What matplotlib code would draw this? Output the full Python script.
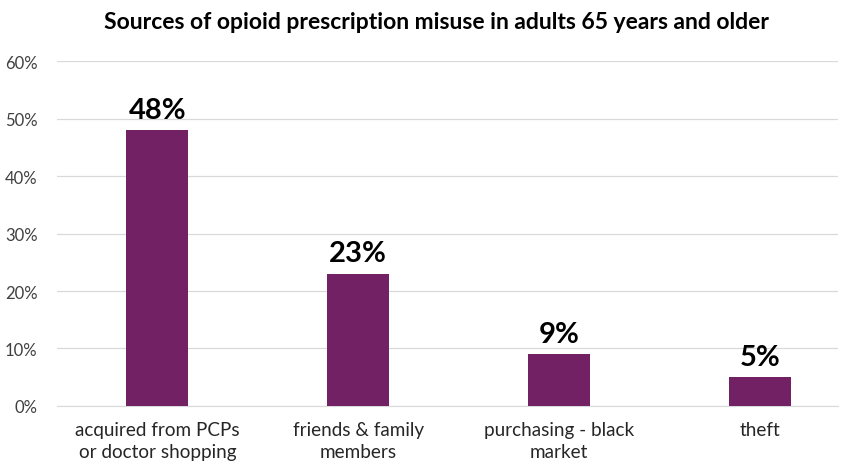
import numpy as np
import matplotlib
matplotlib.use("Agg")
import matplotlib.pyplot as plt
from matplotlib.ticker import PercentFormatter

plt.rcParams["font.family"] = ["Lato", "DejaVu Sans"]

categories = ["acquired from PCPs\nor doctor shopping", "friends & family\nmembers",
              "purchasing - black\nmarket", "theft"]
values = [48, 23, 9, 5]
BAR = "#722165"

fig = plt.figure(figsize=(8.44, 4.64), dpi=100)
ax = fig.add_axes([0.0675, 0.123, 0.9255, 0.743])
x = np.arange(len(categories))
ax.bar(x, values, width=0.31, color=BAR, zorder=3)
for xi, v in zip(x, values):
    ax.text(xi, v + 1.3, f"{v}%", ha="center", va="bottom", fontsize=21,
            fontweight="bold", color="black")

ax.set_ylim(0, 60)
ax.set_yticks(range(0, 61, 10))
ax.yaxis.set_major_formatter(PercentFormatter(decimals=0))
ax.set_xlim(-0.5, 3.39)
ax.set_xticks(x)
ax.set_xticklabels(categories, fontsize=13.6, color="#262626", linespacing=1.35)
ax.tick_params(axis="y", labelsize=12, labelcolor="#404040", length=0, pad=14)
ax.tick_params(axis="x", length=0, pad=11)
ax.grid(axis="y", color="#d9d9d9", lw=0.9, zorder=0)
for s in ["top", "right", "left"]:
    ax.spines[s].set_visible(False)
ax.spines["bottom"].set_color("#d9d9d9")

fig.text(0.517, 0.952, "Sources of opioid prescription misuse in adults 65 years and older",
         ha="center", va="center", fontsize=16.5, fontweight="bold", color="black")

fig.savefig("out.png", dpi=100)
